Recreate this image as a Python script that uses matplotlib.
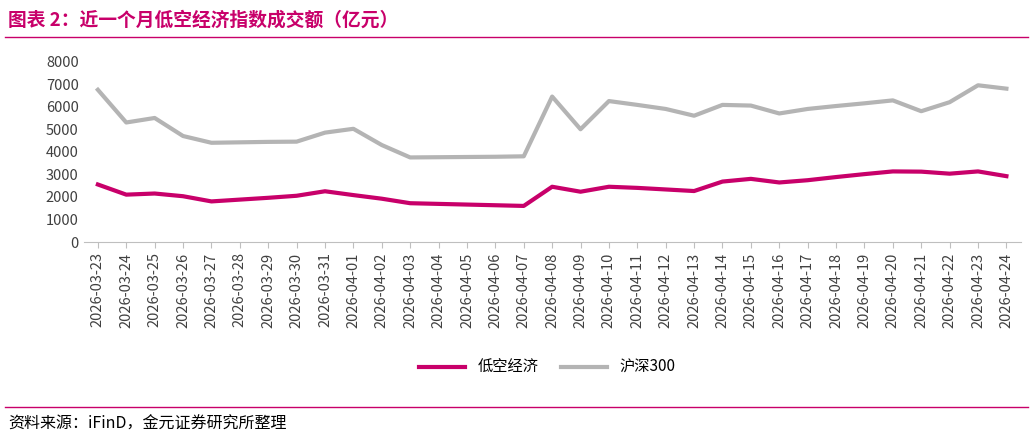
import matplotlib
matplotlib.use("Agg")
import matplotlib.pyplot as plt
from matplotlib.lines import Line2D
import pandas as pd

plt.rcParams['font.family'] = ['Noto Sans CJK SC', 'DejaVu Sans']

dates = [d.strftime('%Y-%m-%d') for d in pd.date_range('2026-03-23', '2026-04-24')]
low_alt = [2550, 2100, 2150, 2030, 1800, 1880, 1960, 2050, 2250, 2080, 1920, 1720, 1690, 1660,
           1630, 1600, 2450, 2230, 2450, 2400, 2330, 2260, 2680, 2800, 2640, 2740, 2880, 3010,
           3130, 3120, 3030, 3130, 2920]
hs300 = [6750, 5300, 5500, 4700, 4400, 4420, 4440, 4450, 4850, 5020, 4300, 3750, 3760, 3770,
         3780, 3800, 6450, 5000, 6250, 6080, 5900, 5600, 6080, 6050, 5700, 5900, 6030, 6150,
         6280, 5800, 6200, 6950, 6800]

pink = '#C8006A'
gray = '#B4B4B4'

fig = plt.figure(figsize=(10.33, 4.40), dpi=100)
ax = fig.add_axes([0.081, 0.45, 0.907, 0.41])
x = range(len(dates))
ax.plot(x, low_alt, color=pink, lw=3, label='低空经济')
ax.plot(x, hs300, color=gray, lw=3, label='沪深300')
ax.set_ylim(0, 8000)
ax.set_yticks(range(0, 8001, 1000))
ax.set_xlim(-0.5, len(dates) - 0.5)
ax.set_xticks(list(x))
ax.set_xticklabels(dates, rotation=90, fontsize=10.5, color='#404040')
ax.tick_params(axis='y', labelsize=10.5, colors='#404040', length=0)
ax.tick_params(axis='x', length=4, color='#BFBFBF')
for s in ['top', 'right', 'left']:
    ax.spines[s].set_visible(False)
ax.spines['bottom'].set_color('#BFBFBF')

handles = [Line2D([], [], color=pink, lw=3), Line2D([], [], color=gray, lw=3)]
fig.legend(handles, ['低空经济', '沪深300'], loc='center', bbox_to_anchor=(0.53, 0.165),
           ncol=2, frameon=False, fontsize=11, handlelength=3, columnspacing=1.5)

fig.text(0.008, 0.955, '图表 2：近一个月低空经济指数成交额（亿元）', fontsize=13.5,
         color=pink, va='center', fontweight='bold')
fig.add_artist(Line2D([0.005, 0.995], [0.915, 0.915], color=pink, lw=1))
fig.add_artist(Line2D([0.005, 0.995], [0.075, 0.075], color=pink, lw=1))
fig.text(0.008, 0.035, '资料来源：iFinD，金元证券研究所整理', fontsize=11.5, va='center', color='black')

fig.savefig('out.png', dpi=100)
